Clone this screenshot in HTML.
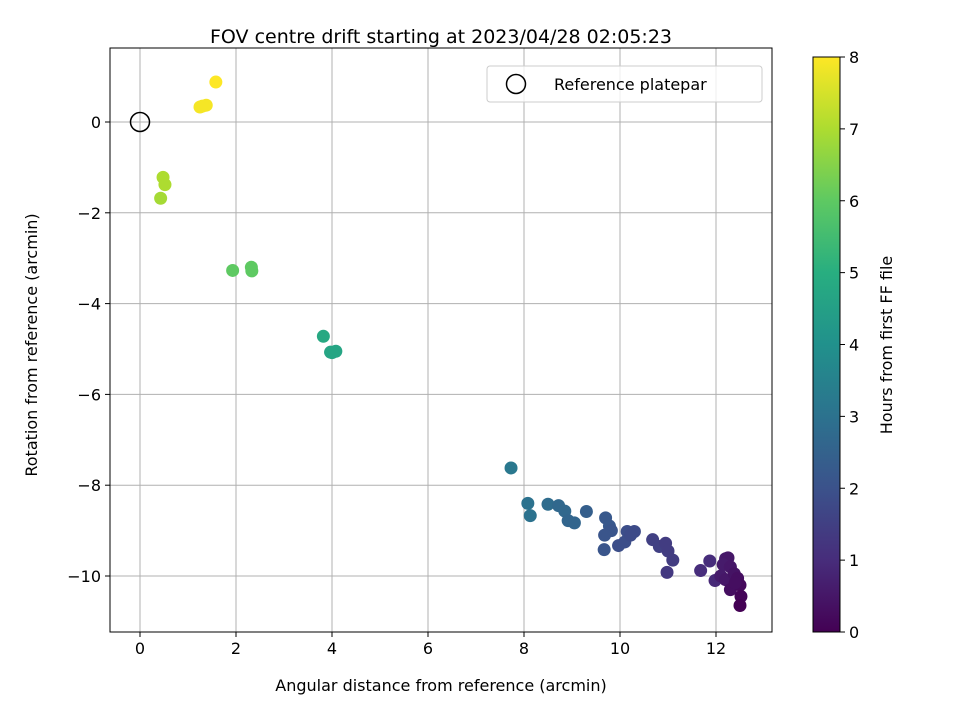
<!DOCTYPE html>
<html><head><meta charset="utf-8"><style>
body{margin:0;background:#fff}
svg text{font-family:"DejaVu Sans","Liberation Sans",sans-serif;fill:#000}
</style></head><body>
<svg id="c" width="960" height="720" viewBox="0 0 960 720">
<defs><linearGradient id="vg" x1="0" y1="1" x2="0" y2="0">
<stop offset="0" stop-color="#440154"/><stop offset="0.125" stop-color="#472d7b"/><stop offset="0.25" stop-color="#3b528b"/><stop offset="0.375" stop-color="#2c728e"/><stop offset="0.5" stop-color="#21918c"/><stop offset="0.625" stop-color="#28ae80"/><stop offset="0.75" stop-color="#5ec962"/><stop offset="0.875" stop-color="#addc30"/><stop offset="1" stop-color="#fde725"/></linearGradient></defs>
<g id="grid"></g><g id="pts"></g><g id="axes"></g>
</svg>
<script>
const xs=[1.58,1.25,1.38,1.3,0.48,0.52,0.43,1.93,2.32,2.33,3.82,3.97,4.08,4.0,7.73,8.08,8.13,8.5,8.72,8.85,8.92,9.05,9.3,9.7,9.78,9.82,9.68,9.67,9.97,10.1,10.15,10.3,10.22,10.68,10.82,10.95,11.0,11.1,10.98,11.68,11.87,11.98,12.2,12.25,12.15,12.3,12.1,12.2,12.38,12.45,12.3,12.5,12.52,12.5,12.4];
const ys=[0.88,0.33,0.37,0.35,-1.22,-1.38,-1.68,-3.27,-3.2,-3.28,-4.72,-5.07,-5.05,-5.08,-7.62,-8.4,-8.67,-8.42,-8.45,-8.57,-8.78,-8.83,-8.58,-8.72,-8.9,-9.0,-9.1,-9.42,-9.33,-9.25,-9.02,-9.02,-9.1,-9.2,-9.35,-9.28,-9.45,-9.65,-9.92,-9.88,-9.67,-10.1,-9.62,-9.6,-9.75,-9.8,-10.0,-10.08,-9.95,-10.05,-10.3,-10.2,-10.45,-10.65,-10.15];
const hrs=[8,7.9,7.9,7.9,7,7,6.9,6,6,6,4.8,4.7,4.7,4.7,3.2,3.0,3.0,2.8,2.7,2.7,2.6,2.6,2.4,2.2,2.2,2.1,2.1,2.1,1.9,1.9,1.9,1.8,1.8,1.5,1.5,1.4,1.4,1.4,1.3,1.0,1.0,0.9,0.6,0.5,0.6,0.5,0.6,0.5,0.4,0.3,0.3,0.2,0.1,0.0,0.3];
const xTicks=[0,2,4,6,8,10,12], yTicks=[0,-2,-4,-6,-8,-10], cTicks=[0,1,2,3,4,5,6,7,8];
const L=110,R=772,T=48,B=632;
const X=v=>140+v*48, Y=v=>122-v*45.4;
const vir=["#440154","#472d7b","#3b528b","#2c728e","#21918c","#28ae80","#5ec962","#addc30","#fde725"];
function hx(c){return [1,3,5].map(i=>parseInt(c.substr(i,2),16));}
function col(h){let t=Math.max(0,Math.min(8,h)),i=Math.min(7,Math.floor(t)),f=t-i,a=hx(vir[i]),b=hx(vir[i+1]);return 'rgb('+a.map((v,k)=>Math.round(v+(b[k]-v)*f)).join(',')+')';}
const NS='http://www.w3.org/2000/svg';
function el(p,t,at,txt){const e=document.createElementNS(NS,t);for(const k in at)e.setAttribute(k,at[k]);if(txt!==undefined)e.textContent=txt;p.appendChild(e);return e;}
const g=document.getElementById('grid'),P=document.getElementById('pts'),A=document.getElementById('axes');
xTicks.forEach(v=>{const l=el(g,'line',{x1:X(v),x2:X(v),y1:T,y2:B,stroke:'#b0b0b0','stroke-width':1});

el(A,'line',{x1:X(v),x2:X(v),y1:B,y2:B+5,stroke:'#000'});
const t=el(A,'text',{x:X(v),y:B+22,'text-anchor':'middle','font-size':16},String(v));
});
yTicks.forEach(v=>{const l=el(g,'line',{x1:L,x2:R,y1:Y(v),y2:Y(v),stroke:'#b0b0b0','stroke-width':1});

el(A,'line',{x1:L-5,x2:L,y1:Y(v),y2:Y(v),stroke:'#000'});
const t=el(A,'text',{x:L-9,y:Y(v)+6,'text-anchor':'end','font-size':16},v<0?'\u2212'+(-v):String(v));
});
xs.forEach((x,i)=>{const c=el(P,'circle',{cx:X(x),cy:Y(ys[i]),r:6.5,fill:col(hrs[i])});
});
const ref=el(P,'circle',{cx:X(0),cy:Y(0),r:9.5,fill:'none',stroke:'#000','stroke-width':1.5});

const fr=el(A,'rect',{x:L,y:T,width:R-L,height:B-T,fill:'none',stroke:'#000','stroke-width':1});

const ti=el(A,'text',{x:441,y:43,'text-anchor':'middle','font-size':19},'FOV centre drift starting at 2023/04/28 02:05:23');

const xl=el(A,'text',{x:441,y:691,'text-anchor':'middle','font-size':16},'Angular distance from reference (arcmin)');

const yl=el(A,'text',{x:37,y:345,'text-anchor':'middle','font-size':16,transform:'rotate(-90 37 345)'},'Rotation from reference (arcmin)');

const lg=el(A,'g',{});
el(lg,'rect',{x:487,y:66,width:275,height:36,rx:3,fill:'#fff','fill-opacity':0.8,stroke:'#ccc'});
el(lg,'circle',{cx:516,cy:84,r:9.5,fill:'none',stroke:'#000','stroke-width':1.5});
el(lg,'text',{x:554,y:90,'font-size':16},'Reference platepar');
const cb=el(A,'rect',{x:813,y:57,width:27,height:575,fill:'url(#vg)',stroke:'#000','stroke-width':1});

const CY=v=>632-v*575/8;
cTicks.forEach(v=>{el(A,'line',{x1:840,x2:845,y1:CY(v),y2:CY(v),stroke:'#000'});
const t=el(A,'text',{x:849,y:CY(v)+6,'font-size':16},String(v));
});
const cl=el(A,'text',{x:892,y:345,'text-anchor':'middle','font-size':16,transform:'rotate(-90 892 345)'},'Hours from first FF file');

</script>
</body></html>
